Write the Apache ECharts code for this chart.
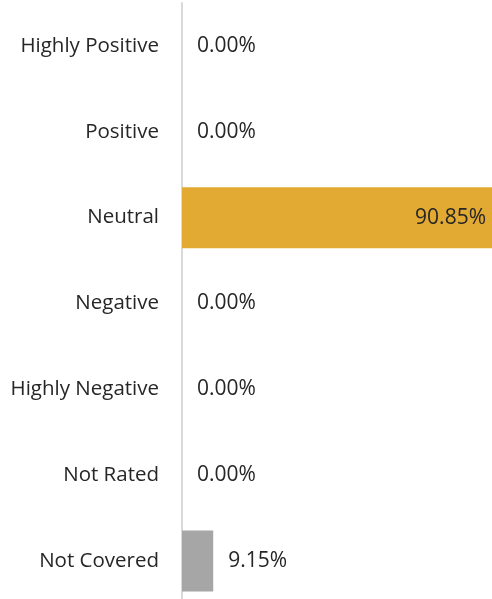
<!DOCTYPE html>
<html>
<head>
<meta charset="utf-8">
<script src="https://cdn.jsdelivr.net/npm/echarts@6/dist/echarts.min.js"></script>
<style>
  html, body { margin: 0; padding: 0; background: #fff; }
  #chart { width: 492px; height: 599px; }
</style>
</head>
<body>
<div id="chart"></div>
<script>
// categories top to bottom
const categories = ['Highly Positive', 'Positive', 'Neutral', 'Negative', 'Highly Negative', 'Not Rated', 'Not Covered'];
const shares = [0, 0, 90.85, 0, 0, 0, 9.15];
const barColors = ['#E2AA33', '#E2AA33', '#E2AA33', '#E2AA33', '#E2AA33', '#E2AA33', '#A6A6A6'];

const chart = echarts.init(document.getElementById('chart'));

const font = '"Open Sans", sans-serif';

chart.setOption({
  animation: false,
  grid: { left: 182, right: 0, top: 3, height: 601, outerBoundsMode: 'none', containLabel: false },
  xAxis: {
    type: 'value',
    min: 0,
    max: 90.85,
    show: false
  },
  yAxis: {
    type: 'category',
    inverse: true,
    data: categories,
    axisLine: { show: true, lineStyle: { color: '#D9D9D9', width: 2 } },
    axisTick: { show: false },
    axisLabel: { color: '#262626', fontSize: 20.5, fontFamily: font, margin: 23 }
  },
  series: [{
    type: 'bar',
    barWidth: 61,
    data: shares.map((v, i) => ({
      value: v,
      itemStyle: { color: barColors[i] },
      label: v > 50
        ? { position: 'insideRight', distance: 6 }
        : { position: 'right', distance: 15 }
    })),
    label: {
      show: true,
      color: '#262626',
      fontSize: 21,
      fontFamily: font,
      formatter: p => p.value.toFixed(2) + '%'
    }
  }]
});
</script>
</body>
</html>
